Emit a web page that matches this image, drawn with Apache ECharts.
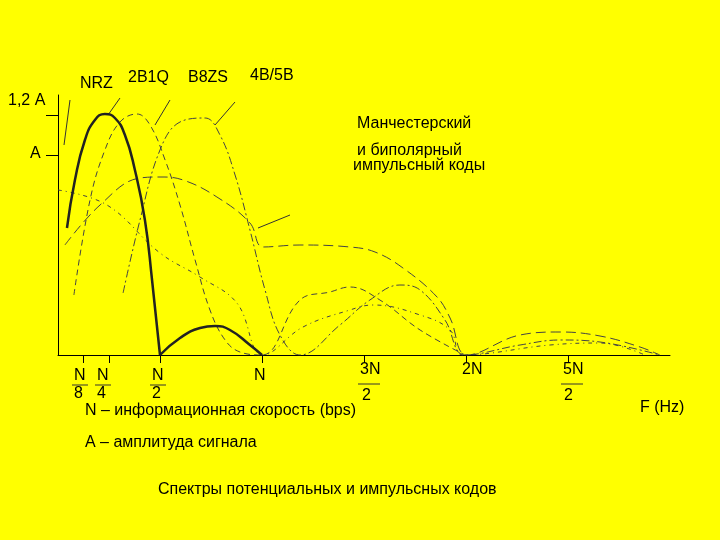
<!DOCTYPE html>
<html>
<head>
<meta charset="utf-8">
<script src="https://cdn.jsdelivr.net/npm/echarts@6/dist/echarts.min.js"></script>
<style>html,body{margin:0;background:#ffff00}#main{width:720px;height:540px}</style>
</head>
<body>
<div id="main"></div>
<script>
// x in units of N, y in units of A
var nrzMain = [[0.044,0.635],[0.083,0.875],[0.132,1.075],[0.181,1.175],[0.23,1.205],[0.279,1.185],[0.328,1.10],[0.377,0.925],[0.426,0.675],[0.461,0.375],[0.5,0]];
var nrzSide = [[0.5,0],[0.598,0.085],[0.696,0.135],[0.77,0.145],[0.843,0.125],[0.941,0.05],[1,0]];
var b2q1 = [[0.078,0.30],[0.157,0.775],[0.23,1.025],[0.304,1.165],[0.387,1.205],[0.451,1.15],[0.525,0.975],[0.598,0.75],[0.672,0.475],[0.745,0.225],[0.819,0.075],[0.892,0.015],[1,0],
            [1.186,0.275],[1.333,0.315],[1.431,0.34],[1.578,0.275],[1.775,0.125],[1.995,0]];
var b8zs = [[0.319,0.31],[0.402,0.675],[0.5,1.025],[0.598,1.165],[0.721,1.185],[0.794,1.10],[0.868,0.90],[0.941,0.625],[1.015,0.325],[1.088,0.10],[1.186,0],
            [1.382,0.15],[1.529,0.275],[1.676,0.35],[1.775,0.325],[1.897,0.175],[1.995,0],
            [2.265,0.05],[2.461,0.075],[2.657,0.065],[2.95,0]];
var manch = [[0.034,0.55],[0.206,0.75],[0.402,0.885],[0.5,0.89],[0.613,0.875],[0.779,0.79],[0.941,0.66],[1.005,0.54],[1.186,0.55],[1.431,0.54],[1.554,0.515],[1.691,0.435],[1.858,0.29],[1.922,0.185],[2.005,0],
             [2.265,0.10],[2.461,0.115],[2.657,0.095],[2.853,0.04],[2.95,0]];
var bipolar = [[0,0.825],[0.24,0.75],[0.5,0.51],[0.696,0.39],[0.877,0.26],[1.005,0],
               [1.201,0.14],[1.431,0.225],[1.544,0.25],[1.775,0.2],[1.922,0.125],[1.985,0],
               [2.412,0.05],[2.657,0.06],[2.877,0]];
var tickValues = [0.125,0.25,0.5,1,1.5,2,2.5];

var chart = echarts.init(document.getElementById('main'));
var font = 'Liberation Sans, Arial, sans-serif';
function thin(name, data, type){
  return {name:name,type:'line',data:data,showSymbol:false,smooth:0.4,
    lineStyle:{color:'#444',width:1,type:type},z:2};
}
function txt(x,y,s,size){
  return {type:'text',left:x,top:y,style:{text:s,fill:'#000',font:(size||16)+'px '+font}};
}
function ln(x1,y1,x2,y2){
  return {type:'line',shape:{x1:x1,y1:y1,x2:x2,y2:y2},style:{stroke:'#333',lineWidth:1}};
}
chart.setOption({
  backgroundColor:'#ffff00',
  animation:false,
  grid:{left:58,top:95,width:612,bottom:185},
  xAxis:{type:'value',min:0,max:3,splitLine:{show:false},
    axisLine:{lineStyle:{color:'#000'}},axisLabel:{show:false},
    axisTick:{customValues:tickValues,length:8,inside:false,lineStyle:{color:'#000'}}},
  yAxis:{type:'value',min:0,max:1.3,splitLine:{show:false},
    axisLine:{show:true,lineStyle:{color:'#000'}},axisLabel:{show:false},
    axisTick:{customValues:[1,1.2],length:12,lineStyle:{color:'#000'}}},
  series:[
    {name:'NRZ',type:'line',data:nrzMain,showSymbol:false,smooth:0.5,lineStyle:{color:'#222',width:2.5},z:3},
    {name:'NRZ2',type:'line',data:nrzSide,showSymbol:false,smooth:0.5,lineStyle:{color:'#222',width:2.5},z:3},
    thin('2B1Q',b2q1,[6,4]),
    thin('B8ZS',b8zs,[8,3,2,3]),
    thin('Manchester',manch,[10,5]),
    thin('Bipolar',bipolar,[4,4,1,4])
  ],
  graphic:[
    txt(8,93,'1,2 A'),txt(30,146,'A'),
    txt(80,76,'NRZ'),txt(128,70,'2B1Q'),txt(188,70,'B8ZS'),txt(250,68,'4B/5B'),
    txt(357,116,'Манчестерский'),txt(357,143,'и биполярный'),txt(353,158,'импульсный коды'),
    ln(70,100,64,145),ln(120,98,108,115),ln(170,100,155,125),ln(235,102,215,125),ln(290,215,258,228),
    txt(74,368,'N'),txt(74,386,'8'),ln(72,385,88,385),
    txt(97,368,'N'),txt(97,386,'4'),ln(95,385,111,385),
    txt(152,368,'N'),txt(152,386,'2'),ln(150,385,166,385),
    txt(254,368,'N'),
    txt(360,362,'3N'),txt(362,388,'2'),ln(358,384,380,384),
    txt(462,362,'2N'),
    txt(563,362,'5N'),txt(564,388,'2'),ln(561,384,583,384),
    txt(640,400,'F (Hz)'),
    txt(85,403,'N – информационная скорость (bps)'),
    txt(85,435,'A – амплитуда сигнала'),
    txt(158,482,'Спектры потенциальных и импульсных кодов')
  ]
});
</script>
</body>
</html>
